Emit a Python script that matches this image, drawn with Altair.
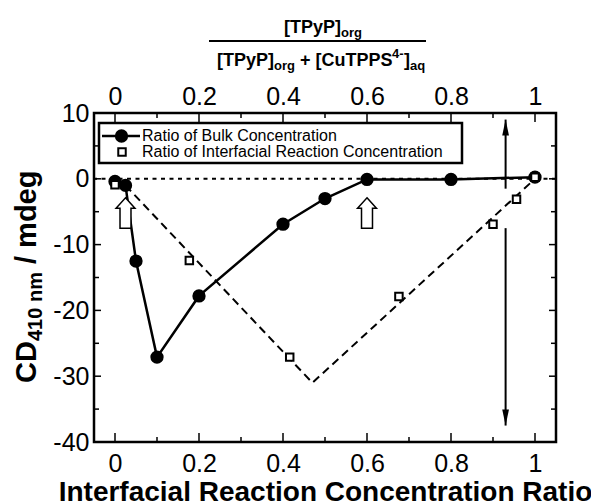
import altair as alt
import pandas as pd

# ---------------- data ----------------
series_names = ["Ratio of Bulk Concentration", "Ratio of Interfacial Reaction Concentration"]
bulk_x = [0.0, 0.025, 0.05, 0.1, 0.2, 0.4, 0.5, 0.6, 0.8, 1.0]
bulk_y = [-0.4, -1.0, -12.5, -27.1, -17.8, -6.9, -3.0, -0.1, -0.1, 0.25]
inter_x = [0.0, 0.177, 0.416, 0.676, 0.9, 0.956, 1.0]
inter_y = [-0.9, -12.4, -27.1, -17.9, -6.9, -3.1, 0.25]
fit_x = [0.025, 0.47, 1.0]
fit_y = [-1.0, -31.0, 0.0]
open_arrow_x = [0.025, 0.6]
open_arrow_y = [-5.2, -5.2]
range_arrow_x = [0.93, 0.93]
range_arrow_from = [-1.5, -7.5]
range_arrow_to = [9.0, -37.5]
x_major = [0.0, 0.2, 0.4, 0.6, 0.8, 1.0]
x_minor = [0.1, 0.3, 0.5, 0.7, 0.9]
y_major = [10, 0, -10, -20, -30, -40]
y_minor = [5, -5, -15, -25, -35]
x_title = "Interfacial Reaction Concentration Ratio"

FONT = "Liberation Sans"
L, T = 94, 113          # plot origin inside the 591x501 page
W, H = 462, 329

bulk = pd.DataFrame({"x": bulk_x, "y": bulk_y})
inter = pd.DataFrame({"x": inter_x, "y": inter_y})
fit = pd.DataFrame({"x": fit_x, "y": fit_y})
oarr = pd.DataFrame({"x": open_arrow_x, "y": open_arrow_y})
rarr = pd.DataFrame({"x": range_arrow_x, "y": range_arrow_from, "y2": range_arrow_to})
one = pd.DataFrame({"a": [0]})

xs = alt.Scale(domain=[-0.05, 1.05], nice=False, zero=False)
ys = alt.Scale(domain=[-40, 10], nice=False, zero=False)

common = dict(grid=False, domain=False, ticks=False, labelOverlap=False, labelFlush=False,
              labelFontSize=25)
ax_bottom = alt.Axis(orient="bottom", values=x_major, title=x_title, labelExpr="toString(datum.value)",
                     labelPadding=9, titleFontSize=28, titleFontWeight="bold", titlePadding=2, **common)
ax_top = alt.Axis(orient="top", values=x_major, title=None, labelExpr="toString(datum.value)",
                  labelPadding=4, **common)
ax_left = alt.Axis(orient="left", values=y_major, title=None, labelExpr="toString(datum.value)",
                   labelPadding=5, **common)

X = lambda f="x": alt.X(f"{f}:Q", scale=xs, axis=None)
Y = lambda f="y": alt.Y(f"{f}:Q", scale=ys, axis=None)


def xticks(vals, y0, y1):
    return alt.Chart(pd.DataFrame({"x": vals})).mark_rule(color="black", strokeWidth=1.5).encode(
        x=X(), y=alt.value(y0), y2=alt.value(y1))


def yticks(vals, x0, x1):
    return alt.Chart(pd.DataFrame({"y": vals})).mark_rule(color="black", strokeWidth=1.5).encode(
        y=Y(), x=alt.value(x0), x2=alt.value(x1))


ticks = [
    xticks(x_major, H, H - 9), xticks(x_minor, H, H - 5),
    xticks(x_major, 0, 9), xticks(x_minor, 0, 5),
    yticks(y_major, 0, 7), yticks(y_minor, 0, 5),
    yticks(y_major, W, W - 7), yticks(y_minor, W, W - 5),
]

zero_line = alt.Chart(one).mark_rule(color="black", strokeWidth=2, strokeDash=[4, 4.5]).encode(
    y=alt.datum(0, scale=ys, axis=None))

fit_line = alt.Chart(fit).mark_line(color="black", strokeWidth=2, strokeDash=[8, 5]).encode(x=X(), y=Y())

bulk_line = alt.Chart(bulk).mark_line(color="black", strokeWidth=2.5).encode(
    x=alt.X("x:Q", scale=xs, axis=ax_bottom), y=alt.Y("y:Q", scale=ys, axis=ax_left))

bulk_pts = alt.Chart(bulk).mark_point(shape="circle", filled=True, color="black", size=177,
                                      opacity=1).encode(x=X(), y=Y())

inter_pts = alt.Chart(inter).mark_point(shape="square", filled=True, fill="white", stroke="black",
                                        strokeWidth=2, size=56, opacity=1).encode(
    x=alt.X("x:Q", scale=xs, axis=ax_top), y=Y())

hollow = "M0,-1L0.62,-0.31L0.36,-0.31L0.36,1L-0.36,1L-0.36,-0.31L-0.62,-0.31Z"
open_arrows = alt.Chart(oarr).mark_point(shape=hollow, filled=True, fill="white", stroke="black",
                                         strokeWidth=1.5, size=930, opacity=1).encode(x=X(), y=Y())

r_rules = alt.Chart(rarr).mark_rule(color="black", strokeWidth=2).encode(x=X(), y=Y(), y2="y2:Q")
r_up = alt.Chart(rarr.iloc[[0]]).mark_point(shape="M0,0L0.42,2L-0.42,2Z", filled=True, color="black",
                                            size=256, opacity=1).encode(x=X(), y=Y("y2"))
r_down = alt.Chart(rarr.iloc[[1]]).mark_point(shape="M0,0L0.42,-2L-0.42,-2Z", filled=True,
                                              color="black", size=256, opacity=1).encode(x=X(), y=Y("y2"))


def txt(t, x, y, size, weight="bold", angle=0, font=FONT, baseline="alphabetic"):
    return alt.Chart(one).mark_text(text=t, fontSize=size, fontWeight=weight, font=font, angle=angle,
                                    align="left", baseline=baseline, color="black").encode(
        x=alt.value(x - L), y=alt.value(y - T))


# legend (drawn as marks)
leg_box = alt.Chart(one).mark_rect(fill="white", stroke="black", strokeWidth=2.5).encode(
    x=alt.value(99 - L), x2=alt.value(462 - L), y=alt.value(123 - T), y2=alt.value(163 - T))
leg_line = alt.Chart(one).mark_rule(color="black", strokeWidth=2.5).encode(
    x=alt.value(102 - L), x2=alt.value(140 - L), y=alt.value(136 - T))
leg_circ = alt.Chart(one).mark_point(shape="circle", filled=True, color="black", size=177, opacity=1).encode(
    x=alt.value(121.5 - L), y=alt.value(136 - T))
leg_sq = alt.Chart(one).mark_point(shape="square", filled=True, fill="white", stroke="black",
                                   strokeWidth=2, size=56, opacity=1).encode(
    x=alt.value(122 - L), y=alt.value(152 - T))
leg_t1 = txt(series_names[0], 142, 136, 16, weight="normal", baseline="middle")
leg_t2 = txt(series_names[1], 142, 152, 16, weight="normal", baseline="middle")

# top fraction title
frac_line = alt.Chart(one).mark_rule(color="black", strokeWidth=2).encode(
    x=alt.value(209 - L), x2=alt.value(426 - L), y=alt.value(41 - T))
frac = [
    txt("[TPyP]", 284, 33, 18), txt("org", 341, 37, 13),
    txt("[TPyP]", 217, 66, 18), txt("org", 274, 70, 13),
    txt("+ [CuTPPS", 300, 66, 18), txt("4-", 392, 58, 13),
    txt("]", 404, 66, 18), txt("aq", 410, 70, 13),
]

# y title, rotated
ytitle = [
    txt("CD", 35.5, 383, 29, angle=270),
    txt("410 nm", 42, 341, 20, angle=270),
    txt("/ mdeg", 35.5, 264, 29, angle=270),
]

chart = alt.layer(
    zero_line, fit_line, *ticks, bulk_line, bulk_pts, inter_pts, open_arrows, r_rules, r_up, r_down,
    leg_box, leg_line, leg_circ, leg_sq, leg_t1, leg_t2,
    frac_line, *frac, *ytitle,
).resolve_axis(x="independent", y="independent").properties(
    width=W, height=H,
    autosize=alt.AutoSizeParams(type="none"),
    padding={"left": L, "top": T, "right": 591 - L - W, "bottom": 501 - T - H},
).configure_view(stroke="black", strokeWidth=2.5).configure_axis(
    labelFont=FONT, titleFont=FONT, labelColor="black", titleColor="black",
)

chart.save("out.html", embed_options={"renderer": "svg", "actions": False})
